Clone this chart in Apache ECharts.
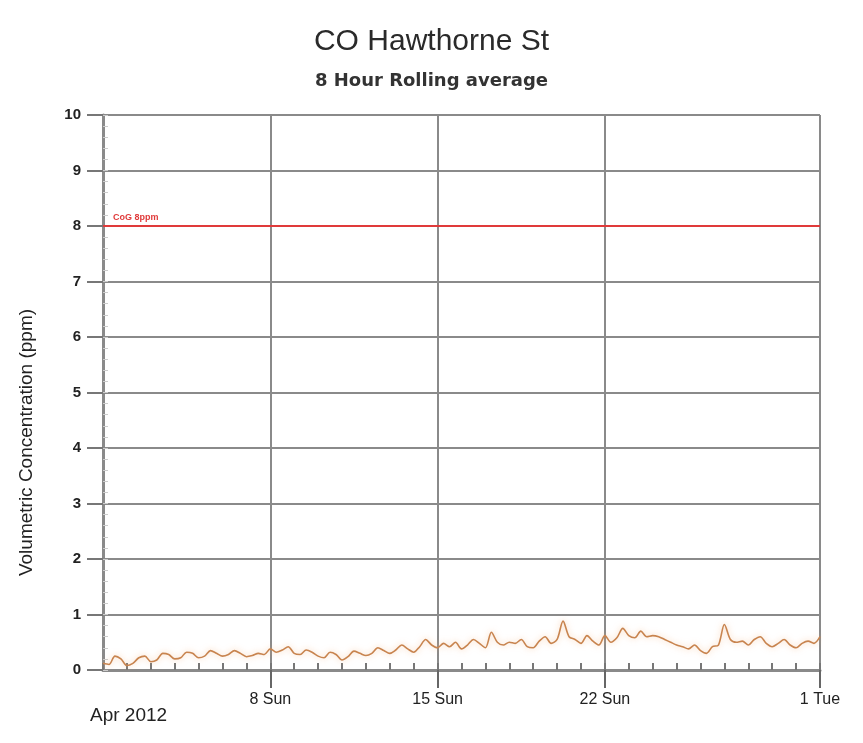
<!DOCTYPE html>
<html>
<head>
<meta charset="utf-8">
<script src="https://cdn.jsdelivr.net/npm/echarts@6/dist/echarts.min.js"></script>
<style>
  html, body { margin: 0; padding: 0; background: #fff; }
  #chart { width: 863px; height: 743px; }
</style>
</head>
<body>
<div id="chart"></div>
<script>
// days since Apr 1 2012 00:00, one reading every 6 hours
var stepDays = 0.25
var coValues = [
  0.12, 0.10, 0.25, 0.20,
  0.08, 0.12, 0.22, 0.25,
  0.15, 0.18, 0.30, 0.28,
  0.20, 0.22, 0.32, 0.30,
  0.22, 0.25, 0.35, 0.30,
  0.25, 0.28, 0.35, 0.30,
  0.24, 0.26, 0.30, 0.28,
  0.38, 0.32, 0.36, 0.42,
  0.30, 0.28, 0.36, 0.32,
  0.25, 0.22, 0.32, 0.28,
  0.18, 0.24, 0.34, 0.30,
  0.26, 0.30, 0.40, 0.35,
  0.30, 0.36, 0.45, 0.38,
  0.32, 0.42, 0.55, 0.45,
  0.40, 0.48, 0.42, 0.50,
  0.38, 0.45, 0.55, 0.48,
  0.40, 0.68, 0.50, 0.45,
  0.50, 0.48, 0.55, 0.42,
  0.40, 0.52, 0.60, 0.48,
  0.55, 0.88, 0.60, 0.55,
  0.48, 0.62, 0.52, 0.45,
  0.62, 0.50, 0.58, 0.75,
  0.62, 0.58, 0.70, 0.60,
  0.62, 0.60, 0.55, 0.50,
  0.45, 0.42, 0.38, 0.45,
  0.35, 0.30, 0.42, 0.45,
  0.82, 0.55, 0.50, 0.52,
  0.45, 0.55, 0.60, 0.48,
  0.42, 0.48, 0.55, 0.45,
  0.40, 0.48, 0.52, 0.48,
  0.60
]
var weekTicks = [7, 14, 21, 30]
var weekLabels = {7: '8 Sun', 14: '15 Sun', 21: '22 Sun', 30: '1 Tue'}
var limitValue = 8
var limitLabel = 'CoG 8ppm'

var lineData = coValues.map(function (v, i) { return [i * stepDays, v] })

var chart = echarts.init(document.getElementById('chart'))
var gridColor = '#8a8a8a'
var fontFamily = '"Liberation Sans", Arial, sans-serif'

chart.setOption({
  animation: false,
  backgroundColor: '#fff',
  title: {
    text: 'CO Hawthorne St',
    subtext: '8 Hour Rolling average',
    left: 'center',
    top: 22,
    itemGap: 15,
    textStyle: { fontFamily: fontFamily, fontSize: 30, fontWeight: 'normal', color: '#2a2a2a' },
    subtextStyle: { fontFamily: '"DejaVu Sans", sans-serif', fontSize: 18, fontWeight: 'bold', color: '#333' }
  },
  grid: { left: 103, right: 43, top: 115, bottom: 73 },
  xAxis: [{
    type: 'value',
    min: 0,
    max: 30,
    axisLine: { lineStyle: { color: gridColor, width: 3 } },
    axisTick: { customValues: weekTicks, length: 18, lineStyle: { color: '#666', width: 2 } },
    axisLabel: {
      customValues: weekTicks,
      formatter: function (v) { return weekLabels[v] || '' },
      fontFamily: fontFamily, fontSize: 16, color: '#222', margin: 22
    },
    splitLine: { show: true, lineStyle: { color: gridColor, width: 2 } }
  }, {
    type: 'value',
    min: 0,
    max: 30,
    interval: 1,
    position: 'bottom',
    axisLine: { show: false },
    axisTick: { inside: true, length: 7, lineStyle: { color: '#777', width: 2 } },
    axisLabel: { show: false },
    splitLine: { show: false }
  }],
  yAxis: [{
    type: 'value',
    min: 0,
    max: 10,
    interval: 1,
    name: 'Volumetric Concentration (ppm)',
    nameLocation: 'middle',
    nameGap: 67,
    nameTextStyle: { fontFamily: fontFamily, fontSize: 19, color: '#222', padding: [0, 100, 0, 0] },
    axisLine: { show: true, lineStyle: { color: gridColor, width: 3 } },
    axisTick: { show: true, length: 16, lineStyle: { color: '#777', width: 2 } },
    axisLabel: { fontFamily: fontFamily, fontSize: 15, fontWeight: 'bold', color: '#222', margin: 22 },
    splitLine: { show: true, lineStyle: { color: gridColor, width: 2 } }
  }, {
    type: 'value',
    min: 0,
    max: 10,
    interval: 0.2,
    position: 'left',
    axisLine: { show: false },
    axisTick: { show: true, inside: true, length: 5, lineStyle: { color: '#ccc', width: 1 } },
    axisLabel: { show: false },
    splitLine: { show: false }
  }],
  series: [{
    type: 'line',
    data: lineData,
    showSymbol: false,
    smooth: 0.3,
    lineStyle: { color: '#c8844f', width: 1.6, shadowColor: 'rgba(245,170,110,0.6)', shadowBlur: 6 },
    markLine: {
      silent: true,
      symbol: 'none',
      data: [{ yAxis: limitValue }],
      lineStyle: { color: '#e03a3a', width: 2, type: 'solid' },
      label: {
        position: 'insideStartTop',
        formatter: limitLabel,
        color: '#e03a3a',
        fontSize: 9,
        fontWeight: 'bold',
        fontFamily: fontFamily,
        distance: [10, 4]
      }
    }
  }],
  graphic: [{
    type: 'text',
    left: 90,
    top: 706,
    style: { text: 'Apr 2012', font: '19px "Liberation Sans", Arial, sans-serif', fill: '#222' }
  }]
})
</script>
</body>
</html>
